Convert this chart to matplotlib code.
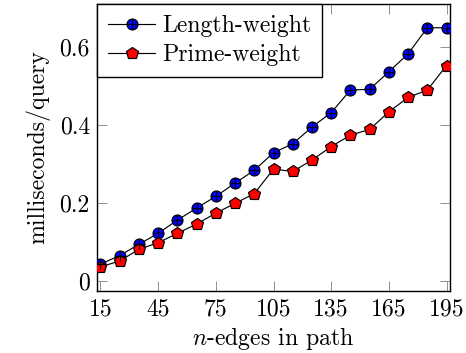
import numpy as np
import matplotlib
matplotlib.use("Agg")
import matplotlib.pyplot as plt
from matplotlib.legend_handler import HandlerTuple

# data
n_edges = [15, 25, 35, 45, 55, 65, 75, 85, 95, 105, 115, 125, 135, 145, 155, 165, 175, 185, 195]
length_weight = [0.043, 0.065, 0.094, 0.122, 0.156, 0.187, 0.217, 0.251, 0.284, 0.329, 0.352,
                 0.395, 0.432, 0.490, 0.492, 0.537, 0.583, 0.650, 0.650]
prime_weight = [0.036, 0.051, 0.081, 0.098, 0.122, 0.146, 0.174, 0.199, 0.224, 0.287, 0.281,
                0.310, 0.345, 0.374, 0.389, 0.434, 0.471, 0.490, 0.553]
x_ticks = [15, 45, 75, 105, 135, 165, 195]
y_ticks = [0, 0.2, 0.4, 0.6]
y_tick_labels = ["0", "0.2", "0.4", "0.6"]

plt.rcParams['font.family'] = ['cmr10', 'DejaVu Serif']
plt.rcParams['mathtext.fontset'] = 'cm'
plt.rcParams['axes.formatter.use_mathtext'] = True
plt.rcParams['font.size'] = 10.2

dpi = 168
fig = plt.figure(figsize=(466 / dpi, 353 / dpi), dpi=dpi)
ax = fig.add_axes([97 / 466, 62 / 353, 353 / 466, 287 / 353])

# blue "oplus" markers: filled circle with a black plus on top
l1, = ax.plot(n_edges, length_weight, color='black', lw=0.5, marker='o', ms=4.7,
              mfc='#0000ff', mec='black', mew=0.5, zorder=3)
p1, = ax.plot(n_edges, length_weight, ls='none', marker='+', ms=4.7, mec='black',
              mew=0.5, zorder=4)
l2, = ax.plot(n_edges, prime_weight, color='black', lw=0.5, marker='p', ms=5.2,
              mfc='#ff0000', mec='black', mew=0.5, zorder=3)

ax.set_xlim(13.2, 196.8)
ax.set_ylim(-0.026, 0.711)
ax.set_xticks(x_ticks)
ax.set_xticklabels([str(t) for t in x_ticks])
ax.set_yticks(y_ticks)
ax.set_yticklabels(y_tick_labels)
ax.tick_params(direction='in', top=True, right=True, length=4.3, width=0.4,
               color='0.55', pad=3)
for s in ax.spines.values():
    s.set_linewidth(0.6)

ax.set_xlabel('$n$-edges in path', labelpad=2)
ax.set_ylabel('milliseconds/query', labelpad=4)

leg = ax.legend([(l1, p1), l2], ['Length-weight', 'Prime-weight'],
                handler_map={tuple: HandlerTuple(ndivide=1)},
                loc='upper left', bbox_to_anchor=(0, 1), borderaxespad=0,
                fancybox=False, framealpha=1, edgecolor='black',
                handlelength=2.0, handletextpad=0.3, labelspacing=0.3, borderpad=0.45)
leg.get_frame().set_linewidth(0.6)

plt.savefig('out.png', dpi=dpi)
